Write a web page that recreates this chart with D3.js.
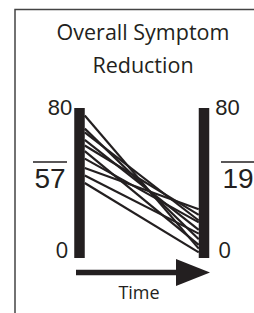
<!DOCTYPE html>
<html>
<head>
<meta charset="utf-8">
<script src="https://cdn.jsdelivr.net/npm/d3@7"></script>
<style>
  body { margin: 0; background: #fff; }
  svg { display: block; }
</style>
</head>
<body>
<svg width="254" height="313"></svg>
<script>
// data
var timePoints = ["Pre", "Post"];
var preScores  = [76, 69, 67, 63, 60, 57, 53, 48, 44, 40];
var postScores = [5, 10, 20, 15, 23, 7, 19, 26, 13, 3];
var means = [57, 19];
var axisTicks = [0, 80];
var title = ["Overall Symptom", "Reduction"];

let svg = d3.select("svg"),
    width = +svg.attr("width"),
    height = +svg.attr("height");

var ink = "#231f20";

var y = d3.scaleLinear().domain([0, 80]).range([258, 108]);
var x = d3.scalePoint().domain(timePoints).range([79.5, 204]);
var barW = 10.5;

// frame
svg.append("path")
    .attr("d", "M15,313V9.5H254")
    .attr("fill", "none")
    .attr("stroke", "#444")
    .attr("stroke-width", 1.5);

svg.append("g").selectAll("text")
  .data(title)
  .enter().append("text")
    .attr("x", 143)
    .attr("y", (d, i) => 40 + i * 33)
    .attr("text-anchor", "middle")
    .attr("font-family", "'Open Sans', Lato, sans-serif")
    .attr("font-size", 21.5)
    .attr("fill", ink)
    .text(d => d);

// subject lines
var pairs = preScores.map((p, i) => [p, postScores[i]]);
svg.append("g").selectAll("line")
  .data(pairs)
  .enter().append("line")
    .attr("x1", x(timePoints[0]) + barW / 2)
    .attr("x2", x(timePoints[1]) - barW / 2)
    .attr("y1", d => y(d[0]))
    .attr("y2", d => y(d[1]))
    .attr("stroke", ink)
    .attr("stroke-width", 2.2);

// bars
svg.append("g").selectAll("rect")
  .data(timePoints)
  .enter().append("rect")
    .attr("x", d => x(d) - barW / 2)
    .attr("y", y(80))
    .attr("width", barW)
    .attr("height", y(0) - y(80))
    .attr("fill", ink);

// tick labels: 80 on the outer side top, 0 at bottom
timePoints.forEach(function(t, i) {
  var left = i === 0;
  var tx = left ? x(t) - barW / 2 - 2 : x(t) + barW / 2 + 6;
  svg.append("text")
      .attr("x", tx)
      .attr("y", y(axisTicks[1]) + 7)
      .attr("text-anchor", left ? "end" : "start")
      .attr("font-family", "'Liberation Sans', Arial, sans-serif")
      .attr("font-size", 22)
      .attr("fill", ink)
      .text(axisTicks[1]);
  svg.append("text")
      .attr("x", left ? tx - 4 : tx + 3)
      .attr("y", y(axisTicks[0]))
      .attr("text-anchor", left ? "end" : "start")
      .attr("font-family", "'Open Sans', Lato, sans-serif")
      .attr("font-size", 22.5)
      .attr("fill", ink)
      .text(axisTicks[0]);

  // mean with overline
  var mx = left ? 50 : 238;
  svg.append("text")
      .attr("x", mx)
      .attr("y", 188)
      .attr("text-anchor", "middle")
      .attr("font-family", "'Liberation Sans', Arial, sans-serif")
      .attr("font-size", 28)
      .attr("fill", ink)
      .text(means[i]);
  svg.append("line")
      .attr("x1", mx - 17).attr("x2", mx + 17)
      .attr("y1", 162).attr("y2", 162)
      .attr("stroke", ink)
      .attr("stroke-width", 1.5);
});

// time arrow
svg.append("line")
    .attr("x1", 76).attr("x2", 178)
    .attr("y1", 272.5).attr("y2", 272.5)
    .attr("stroke", ink)
    .attr("stroke-width", 5.5);
svg.append("path")
    .attr("d", "M176,259L210,272.5L176,286Z")
    .attr("fill", ink);

svg.append("text")
    .attr("x", 139)
    .attr("y", 299)
    .attr("text-anchor", "middle")
    .attr("font-family", "'Open Sans', Lato, sans-serif")
    .attr("font-size", 18)
    .attr("fill", ink)
    .text("Time");
</script>
</body>
</html>
